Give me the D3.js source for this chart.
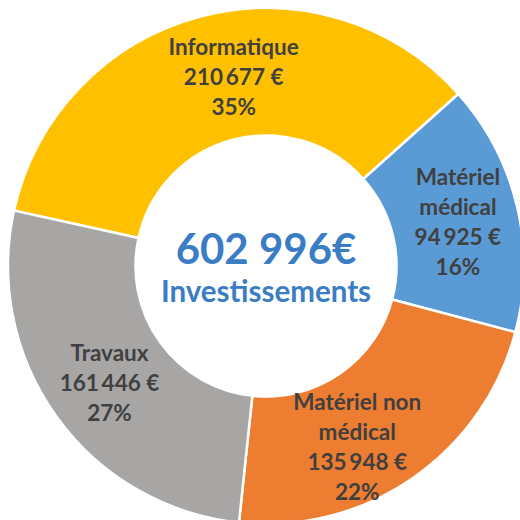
<!DOCTYPE html>
<html>
<head>
<meta charset="utf-8">
<script src="https://cdn.jsdelivr.net/npm/d3@7"></script>
<style>
  html, body { margin: 0; padding: 0; background: #fff; }
  svg { display: block; }
  text { font-family: Lato, "Open Sans", sans-serif; font-weight: 700; }
</style>
</head>
<body>
<div id="main"></div>
<script>
// chart data
var categories = ['Informatique', 'Matériel médical', 'Matériel non médical', 'Travaux'];
var amounts = [210677, 94925, 135948, 161446];
var percents = [35, 16, 22, 27];
var labelLines = [['Informatique'], ['Matériel', 'médical'], ['Matériel non', 'médical'], ['Travaux']];
var centerLabel = 'Investissements';

function draw_donut() {

  var width = 520;
  var height = 520;

  var cx = 266, cy = 266;
  var outer = 258, inner = 130.5;

  var colors = d3.scaleOrdinal()
    .domain(categories)
    .range(['#FFC000', '#5B9BD5', '#ED7D31', '#A8A5A5']);

  // french style grouping with a thin space
  var fr = d3.formatLocale({decimal: ',', thousands: '\u2009', grouping: [3], currency: ['', ' €']});
  var money = fr.format('$,d');

  var data = categories.map(function (c, i) {
    return {name: c, value: amounts[i], pct: percents[i], lines: labelLines[i]};
  });

  var total = d3.sum(amounts);

  // first slice starts up-left, like the original
  var start = -77.6 * Math.PI / 180;

  var pie = d3.pie()
    .sort(null)
    .value(function (d) { return d.value; })
    .startAngle(start)
    .endAngle(start + 2 * Math.PI);

  var arc = d3.arc().innerRadius(inner).outerRadius(outer);

  var svg = d3.select('#main').append('svg')
    .attr('width', width)
    .attr('height', height);

  var g = svg.append('g').attr('transform', 'translate(' + cx + ',' + cy + ')');

  var arcs = pie(data);

  g.selectAll('.slice')
    .data(arcs)
    .enter()
    .append('path')
    .attr('class', 'slice')
    .attr('d', arc)
    .attr('fill', function (d) { return colors(d.data.name); })
    .attr('stroke', '#fff')
    .attr('stroke-width', 2.5);

  // label nudges, the original had two labels dragged a bit
  var nudge = {
    'Informatique': [17, -1],
    'Matériel médical': [3, 1],
    'Matériel non médical': [-19, 21],
    'Travaux': [1, 3]
  };

  var lineH = 30;

  arcs.forEach(function (a) {
    var c = arc.centroid(a);
    var n = nudge[a.data.name];
    var lines = a.data.lines.concat([money(a.data.value), a.data.pct + '%']);
    var t = g.append('text')
      .attr('text-anchor', 'middle')
      .attr('fill', '#404040')
      .style('font-size', '22.5px');
    lines.forEach(function (l, i) {
      t.append('tspan')
        .attr('x', c[0] + n[0])
        .attr('y', c[1] + n[1] + (i - (lines.length - 1) / 2) * lineH + 8)
        .text(l);
    });
  });

  g.append('text')
    .attr('text-anchor', 'middle')
    .attr('y', -2)
    .attr('fill', '#3B7DC4')
    .style('font-size', '42px')
    .text(d3.format(',d')(total).replace(/,/g, ' ') + '€');

  g.append('text')
    .attr('text-anchor', 'middle')
    .attr('y', 36)
    .attr('fill', '#3B7DC4')
    .style('font-size', '29.5px')
    .text(centerLabel);
}

draw_donut();
</script>
</body>
</html>
